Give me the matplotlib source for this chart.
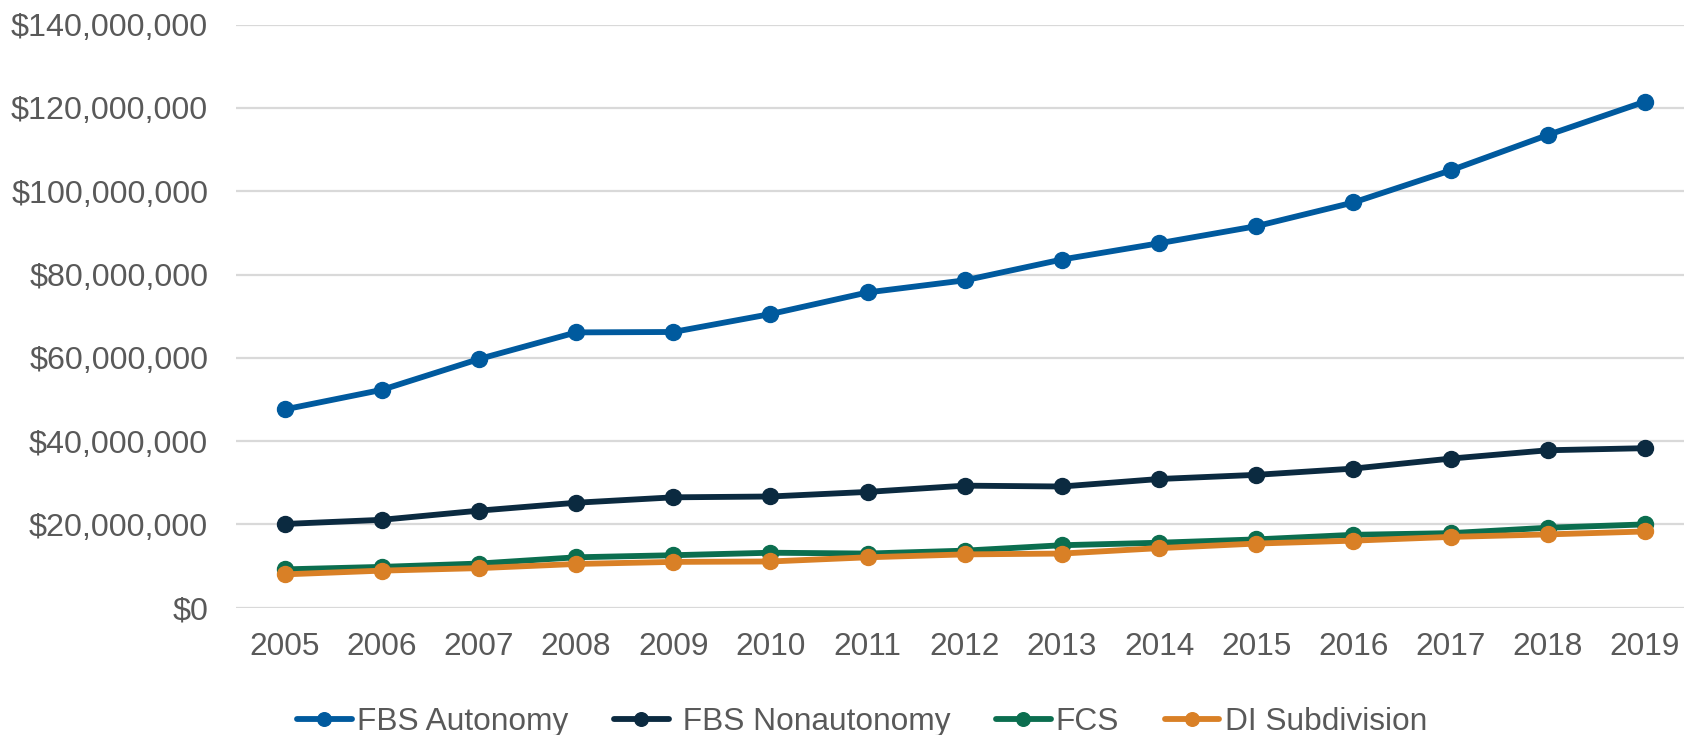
import matplotlib
matplotlib.use("Agg")
import matplotlib.pyplot as plt
from matplotlib.ticker import FuncFormatter

years = list(range(2005, 2020))
fbs_autonomy = [47.6, 52.3, 59.7, 66.1, 66.2, 70.5, 75.7, 78.6, 83.6, 87.5, 91.6, 97.3, 105.0, 113.5, 121.5]
fbs_nonautonomy = [20.1, 21.1, 23.3, 25.2, 26.5, 26.7, 27.8, 29.3, 29.1, 30.9, 31.9, 33.4, 35.8, 37.8, 38.3]
fcs = [9.2, 9.8, 10.6, 12.1, 12.6, 13.2, 13.0, 13.7, 15.0, 15.6, 16.4, 17.5, 17.9, 19.2, 20.0]
di_subdivision = [8.0, 8.9, 9.5, 10.5, 11.0, 11.1, 12.1, 12.8, 13.0, 14.3, 15.4, 16.1, 17.0, 17.6, 18.3]

series_names = ["FBS Autonomy", " FBS Nonautonomy", "FCS", "DI Subdivision"]
series_values = [fbs_autonomy, fbs_nonautonomy, fcs, di_subdivision]
colors = ["#005a9e", "#0b2a40", "#0b6e4f", "#d98026"]

plt.rcParams["font.family"] = ["Liberation Sans", "DejaVu Sans"]
text_color = "#595959"

fig = plt.figure(figsize=(16.84, 7.35), dpi=100)
ax = fig.add_axes([236 / 1684, 1 - 607.7 / 735, 1457.6 / 1684, (607.7 - 24.6) / 735])

for name, vals, c in zip(series_names, series_values, colors):
    ax.plot(years, [v * 1e6 for v in vals], color=c, lw=4.2, marker="o",
            markersize=11.5, label=name, solid_capstyle="round", clip_on=False)

ax.set_xlim(2004.5, 2019.5)
ax.set_ylim(0, 140e6)
ax.set_yticks([i * 20e6 for i in range(8)])
ax.set_xticks(years)
ax.set_xticklabels([str(y) for y in years])
ax.yaxis.set_major_formatter(FuncFormatter(lambda v, p: "${:,.0f}".format(v)))
ax.grid(axis="y", color="#d9d9d9", lw=1.6)
ax.set_axisbelow(True)
for s in ax.spines.values():
    s.set_visible(False)
ax.tick_params(axis="y", length=0, pad=20, labelsize=23.2, labelcolor=text_color)
ax.tick_params(axis="x", length=0, pad=17.5, labelsize=22.8, labelcolor=text_color)

leg = fig.legend(loc="center", bbox_to_anchor=(862 / 1684, 1 - 721.7 / 735), ncol=4,
                 frameon=False, fontsize=22.8, handlelength=1.72, handletextpad=0.16,
                 columnspacing=1.45, markerscale=0.85, borderpad=0, borderaxespad=0)
for t in leg.get_texts():
    t.set_color(text_color)

fig.savefig("out.png", dpi=100)
